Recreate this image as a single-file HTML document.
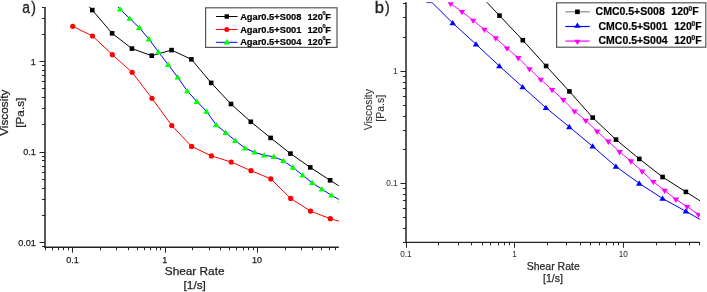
<!DOCTYPE html>
<html><head><meta charset="utf-8"><style>
html,body{margin:0;padding:0;background:#fff;}
body{width:707px;height:292px;overflow:hidden;font-family:"Liberation Sans",sans-serif;}
svg{display:block;will-change:transform;}
</style></head><body>
<svg width="707" height="292" viewBox="0 0 707 292">
<rect width="707" height="292" fill="#fff"/>
<defs><clipPath id="cl"><rect x="45" y="6.8" width="293.8" height="241.2"/></clipPath><clipPath id="cr"><rect x="406" y="2.3" width="293.9" height="240"/></clipPath></defs>
<line x1="45" y1="7" x2="45" y2="247.7" stroke="#222" stroke-width="1.5"/>
<line x1="44.5" y1="247.2" x2="338.8" y2="247.2" stroke="#222" stroke-width="1.5"/>
<line x1="42" y1="246.5" x2="45" y2="246.5" stroke="#222" stroke-width="1"/>
<line x1="39.5" y1="242.5" x2="45" y2="242.5" stroke="#222" stroke-width="1"/>
<line x1="42" y1="215.5" x2="45" y2="215.5" stroke="#222" stroke-width="1"/>
<line x1="42" y1="199.5" x2="45" y2="199.5" stroke="#222" stroke-width="1"/>
<line x1="42" y1="188.5" x2="45" y2="188.5" stroke="#222" stroke-width="1"/>
<line x1="42" y1="179.5" x2="45" y2="179.5" stroke="#222" stroke-width="1"/>
<line x1="42" y1="172.5" x2="45" y2="172.5" stroke="#222" stroke-width="1"/>
<line x1="42" y1="166.5" x2="45" y2="166.5" stroke="#222" stroke-width="1"/>
<line x1="42" y1="160.5" x2="45" y2="160.5" stroke="#222" stroke-width="1"/>
<line x1="42" y1="156.5" x2="45" y2="156.5" stroke="#222" stroke-width="1"/>
<line x1="39.5" y1="152.5" x2="45" y2="152.5" stroke="#222" stroke-width="1"/>
<line x1="42" y1="124.5" x2="45" y2="124.5" stroke="#222" stroke-width="1"/>
<line x1="42" y1="108.5" x2="45" y2="108.5" stroke="#222" stroke-width="1"/>
<line x1="42" y1="97.5" x2="45" y2="97.5" stroke="#222" stroke-width="1"/>
<line x1="42" y1="88.5" x2="45" y2="88.5" stroke="#222" stroke-width="1"/>
<line x1="42" y1="81.5" x2="45" y2="81.5" stroke="#222" stroke-width="1"/>
<line x1="42" y1="75.5" x2="45" y2="75.5" stroke="#222" stroke-width="1"/>
<line x1="42" y1="70.5" x2="45" y2="70.5" stroke="#222" stroke-width="1"/>
<line x1="42" y1="65.5" x2="45" y2="65.5" stroke="#222" stroke-width="1"/>
<line x1="39.5" y1="61.5" x2="45" y2="61.5" stroke="#222" stroke-width="1"/>
<line x1="42" y1="34.5" x2="45" y2="34.5" stroke="#222" stroke-width="1"/>
<line x1="42" y1="18.5" x2="45" y2="18.5" stroke="#222" stroke-width="1"/>
<line x1="42" y1="7.5" x2="45" y2="7.5" stroke="#222" stroke-width="1"/>
<line x1="45.5" y1="247.2" x2="45.5" y2="250.2" stroke="#222" stroke-width="1"/>
<line x1="52.5" y1="247.2" x2="52.5" y2="250.2" stroke="#222" stroke-width="1"/>
<line x1="58.5" y1="247.2" x2="58.5" y2="250.2" stroke="#222" stroke-width="1"/>
<line x1="63.5" y1="247.2" x2="63.5" y2="250.2" stroke="#222" stroke-width="1"/>
<line x1="68.5" y1="247.2" x2="68.5" y2="250.2" stroke="#222" stroke-width="1"/>
<line x1="72.5" y1="247.2" x2="72.5" y2="252.7" stroke="#222" stroke-width="1"/>
<line x1="100.5" y1="247.2" x2="100.5" y2="250.2" stroke="#222" stroke-width="1"/>
<line x1="116.5" y1="247.2" x2="116.5" y2="250.2" stroke="#222" stroke-width="1"/>
<line x1="128.5" y1="247.2" x2="128.5" y2="250.2" stroke="#222" stroke-width="1"/>
<line x1="137.5" y1="247.2" x2="137.5" y2="250.2" stroke="#222" stroke-width="1"/>
<line x1="144.5" y1="247.2" x2="144.5" y2="250.2" stroke="#222" stroke-width="1"/>
<line x1="150.5" y1="247.2" x2="150.5" y2="250.2" stroke="#222" stroke-width="1"/>
<line x1="156.5" y1="247.2" x2="156.5" y2="250.2" stroke="#222" stroke-width="1"/>
<line x1="160.5" y1="247.2" x2="160.5" y2="250.2" stroke="#222" stroke-width="1"/>
<line x1="165.5" y1="247.2" x2="165.5" y2="252.7" stroke="#222" stroke-width="1"/>
<line x1="192.5" y1="247.2" x2="192.5" y2="250.2" stroke="#222" stroke-width="1"/>
<line x1="209.5" y1="247.2" x2="209.5" y2="250.2" stroke="#222" stroke-width="1"/>
<line x1="220.5" y1="247.2" x2="220.5" y2="250.2" stroke="#222" stroke-width="1"/>
<line x1="229.5" y1="247.2" x2="229.5" y2="250.2" stroke="#222" stroke-width="1"/>
<line x1="236.5" y1="247.2" x2="236.5" y2="250.2" stroke="#222" stroke-width="1"/>
<line x1="243.5" y1="247.2" x2="243.5" y2="250.2" stroke="#222" stroke-width="1"/>
<line x1="248.5" y1="247.2" x2="248.5" y2="250.2" stroke="#222" stroke-width="1"/>
<line x1="253.5" y1="247.2" x2="253.5" y2="250.2" stroke="#222" stroke-width="1"/>
<line x1="257.5" y1="247.2" x2="257.5" y2="252.7" stroke="#222" stroke-width="1"/>
<line x1="285.5" y1="247.2" x2="285.5" y2="250.2" stroke="#222" stroke-width="1"/>
<line x1="301.5" y1="247.2" x2="301.5" y2="250.2" stroke="#222" stroke-width="1"/>
<line x1="312.5" y1="247.2" x2="312.5" y2="250.2" stroke="#222" stroke-width="1"/>
<line x1="321.5" y1="247.2" x2="321.5" y2="250.2" stroke="#222" stroke-width="1"/>
<line x1="329.5" y1="247.2" x2="329.5" y2="250.2" stroke="#222" stroke-width="1"/>
<line x1="335.5" y1="247.2" x2="335.5" y2="250.2" stroke="#222" stroke-width="1"/>
<line x1="406" y1="2.3" x2="406" y2="242.8" stroke="#222" stroke-width="1.5"/>
<line x1="405.5" y1="242.3" x2="699.9" y2="242.3" stroke="#222" stroke-width="1.15"/>
<line x1="403" y1="242.5" x2="406" y2="242.5" stroke="#222" stroke-width="1"/>
<line x1="403" y1="228.5" x2="406" y2="228.5" stroke="#222" stroke-width="1"/>
<line x1="403" y1="217.5" x2="406" y2="217.5" stroke="#222" stroke-width="1"/>
<line x1="403" y1="208.5" x2="406" y2="208.5" stroke="#222" stroke-width="1"/>
<line x1="403" y1="200.5" x2="406" y2="200.5" stroke="#222" stroke-width="1"/>
<line x1="403" y1="194.5" x2="406" y2="194.5" stroke="#222" stroke-width="1"/>
<line x1="403" y1="188.5" x2="406" y2="188.5" stroke="#222" stroke-width="1"/>
<line x1="400.5" y1="183.5" x2="406" y2="183.5" stroke="#222" stroke-width="1"/>
<line x1="403" y1="149.5" x2="406" y2="149.5" stroke="#222" stroke-width="1"/>
<line x1="403" y1="130.5" x2="406" y2="130.5" stroke="#222" stroke-width="1"/>
<line x1="403" y1="116.5" x2="406" y2="116.5" stroke="#222" stroke-width="1"/>
<line x1="403" y1="105.5" x2="406" y2="105.5" stroke="#222" stroke-width="1"/>
<line x1="403" y1="96.5" x2="406" y2="96.5" stroke="#222" stroke-width="1"/>
<line x1="403" y1="88.5" x2="406" y2="88.5" stroke="#222" stroke-width="1"/>
<line x1="403" y1="82.5" x2="406" y2="82.5" stroke="#222" stroke-width="1"/>
<line x1="403" y1="76.5" x2="406" y2="76.5" stroke="#222" stroke-width="1"/>
<line x1="400.5" y1="71.5" x2="406" y2="71.5" stroke="#222" stroke-width="1"/>
<line x1="403" y1="37.5" x2="406" y2="37.5" stroke="#222" stroke-width="1"/>
<line x1="403" y1="17.5" x2="406" y2="17.5" stroke="#222" stroke-width="1"/>
<line x1="403" y1="3.5" x2="406" y2="3.5" stroke="#222" stroke-width="1"/>
<line x1="406.5" y1="242.3" x2="406.5" y2="247.8" stroke="#222" stroke-width="1"/>
<line x1="438.5" y1="242.3" x2="438.5" y2="245.3" stroke="#222" stroke-width="1"/>
<line x1="458.5" y1="242.3" x2="458.5" y2="245.3" stroke="#222" stroke-width="1"/>
<line x1="471.5" y1="242.3" x2="471.5" y2="245.3" stroke="#222" stroke-width="1"/>
<line x1="482.5" y1="242.3" x2="482.5" y2="245.3" stroke="#222" stroke-width="1"/>
<line x1="490.5" y1="242.3" x2="490.5" y2="245.3" stroke="#222" stroke-width="1"/>
<line x1="498.5" y1="242.3" x2="498.5" y2="245.3" stroke="#222" stroke-width="1"/>
<line x1="504.5" y1="242.3" x2="504.5" y2="245.3" stroke="#222" stroke-width="1"/>
<line x1="509.5" y1="242.3" x2="509.5" y2="245.3" stroke="#222" stroke-width="1"/>
<line x1="514.5" y1="242.3" x2="514.5" y2="247.8" stroke="#222" stroke-width="1"/>
<line x1="547.5" y1="242.3" x2="547.5" y2="245.3" stroke="#222" stroke-width="1"/>
<line x1="566.5" y1="242.3" x2="566.5" y2="245.3" stroke="#222" stroke-width="1"/>
<line x1="580.5" y1="242.3" x2="580.5" y2="245.3" stroke="#222" stroke-width="1"/>
<line x1="590.5" y1="242.3" x2="590.5" y2="245.3" stroke="#222" stroke-width="1"/>
<line x1="599.5" y1="242.3" x2="599.5" y2="245.3" stroke="#222" stroke-width="1"/>
<line x1="606.5" y1="242.3" x2="606.5" y2="245.3" stroke="#222" stroke-width="1"/>
<line x1="613.5" y1="242.3" x2="613.5" y2="245.3" stroke="#222" stroke-width="1"/>
<line x1="618.5" y1="242.3" x2="618.5" y2="245.3" stroke="#222" stroke-width="1"/>
<line x1="623.5" y1="242.3" x2="623.5" y2="247.8" stroke="#222" stroke-width="1"/>
<line x1="656.5" y1="242.3" x2="656.5" y2="245.3" stroke="#222" stroke-width="1"/>
<line x1="675.5" y1="242.3" x2="675.5" y2="245.3" stroke="#222" stroke-width="1"/>
<line x1="689.5" y1="242.3" x2="689.5" y2="245.3" stroke="#222" stroke-width="1"/>
<line x1="699.5" y1="242.3" x2="699.5" y2="245.3" stroke="#222" stroke-width="1"/>
<g clip-path="url(#cl)">
<polyline points="72.5,-12 92.3,10.1 112.11,33.3 131.93,48.6 151.75,55.7 171.56,50.1 191.38,59.3 211.19,82.9 231,104 250.82,121.8 270.63,137.9 290.45,153.6 310.26,167.4 330.08,180.3 350.1,193" fill="none" stroke="#000" stroke-width="1" stroke-linejoin="round"/>
<polyline points="72.7,26.3 92.52,36 112.33,54.7 132.15,72.3 151.96,98.3 171.78,125.5 191.59,146.4 211.41,155.9 231.22,162 251.04,170.7 270.85,178.9 290.67,198.4 310.48,211.1 330.3,218.7 350.1,224.3" fill="none" stroke="#f00" stroke-width="1" stroke-linejoin="round"/>
<polyline points="110.5,-2 120.1,9.2 129.7,18.5 139.31,27.7 148.91,39.1 158.52,52 168.12,64.6 177.73,77.3 187.33,91 196.94,101.6 206.55,111.4 216.15,124.9 225.75,132.7 235.36,140.7 244.97,148.1 254.57,152.2 264.18,155.3 273.78,156.7 283.38,160.8 292.99,167.4 302.6,175.2 312.2,182.8 321.81,189.1 331.41,195.3 341.01,200.6" fill="none" stroke="#00f" stroke-width="1" stroke-linejoin="round"/>
<rect x="90" y="7.8" width="4.6" height="4.6" fill="#000"/>
<rect x="109.81" y="31" width="4.6" height="4.6" fill="#000"/>
<rect x="129.63" y="46.3" width="4.6" height="4.6" fill="#000"/>
<rect x="149.44" y="53.4" width="4.6" height="4.6" fill="#000"/>
<rect x="169.26" y="47.8" width="4.6" height="4.6" fill="#000"/>
<rect x="189.07" y="57" width="4.6" height="4.6" fill="#000"/>
<rect x="208.89" y="80.6" width="4.6" height="4.6" fill="#000"/>
<rect x="228.7" y="101.7" width="4.6" height="4.6" fill="#000"/>
<rect x="248.52" y="119.5" width="4.6" height="4.6" fill="#000"/>
<rect x="268.33" y="135.6" width="4.6" height="4.6" fill="#000"/>
<rect x="288.15" y="151.3" width="4.6" height="4.6" fill="#000"/>
<rect x="307.96" y="165.1" width="4.6" height="4.6" fill="#000"/>
<rect x="327.78" y="178" width="4.6" height="4.6" fill="#000"/>
<circle cx="72.7" cy="26.3" r="2.6" fill="#f00"/>
<circle cx="92.52" cy="36" r="2.6" fill="#f00"/>
<circle cx="112.33" cy="54.7" r="2.6" fill="#f00"/>
<circle cx="132.15" cy="72.3" r="2.6" fill="#f00"/>
<circle cx="151.96" cy="98.3" r="2.6" fill="#f00"/>
<circle cx="171.78" cy="125.5" r="2.6" fill="#f00"/>
<circle cx="191.59" cy="146.4" r="2.6" fill="#f00"/>
<circle cx="211.41" cy="155.9" r="2.6" fill="#f00"/>
<circle cx="231.22" cy="162" r="2.6" fill="#f00"/>
<circle cx="251.04" cy="170.7" r="2.6" fill="#f00"/>
<circle cx="270.85" cy="178.9" r="2.6" fill="#f00"/>
<circle cx="290.67" cy="198.4" r="2.6" fill="#f00"/>
<circle cx="310.48" cy="211.1" r="2.6" fill="#f00"/>
<circle cx="330.3" cy="218.7" r="2.6" fill="#f00"/>
<polygon points="120.1,6.1 123.4,11.5 116.8,11.5" fill="#0f0"/>
<polygon points="129.7,15.4 133,20.8 126.4,20.8" fill="#0f0"/>
<polygon points="139.31,24.6 142.61,30 136.01,30" fill="#0f0"/>
<polygon points="148.91,36 152.22,41.4 145.61,41.4" fill="#0f0"/>
<polygon points="158.52,48.9 161.82,54.3 155.22,54.3" fill="#0f0"/>
<polygon points="168.12,61.5 171.43,66.9 164.82,66.9" fill="#0f0"/>
<polygon points="177.73,74.2 181.03,79.6 174.43,79.6" fill="#0f0"/>
<polygon points="187.33,87.9 190.63,93.3 184.03,93.3" fill="#0f0"/>
<polygon points="196.94,98.5 200.24,103.9 193.64,103.9" fill="#0f0"/>
<polygon points="206.55,108.3 209.85,113.7 203.25,113.7" fill="#0f0"/>
<polygon points="216.15,121.8 219.45,127.2 212.85,127.2" fill="#0f0"/>
<polygon points="225.75,129.6 229.06,135 222.45,135" fill="#0f0"/>
<polygon points="235.36,137.6 238.66,143 232.06,143" fill="#0f0"/>
<polygon points="244.97,145 248.27,150.4 241.66,150.4" fill="#0f0"/>
<polygon points="254.57,149.1 257.87,154.5 251.27,154.5" fill="#0f0"/>
<polygon points="264.18,152.2 267.48,157.6 260.88,157.6" fill="#0f0"/>
<polygon points="273.78,153.6 277.08,159 270.48,159" fill="#0f0"/>
<polygon points="283.38,157.7 286.69,163.1 280.08,163.1" fill="#0f0"/>
<polygon points="292.99,164.3 296.29,169.7 289.69,169.7" fill="#0f0"/>
<polygon points="302.6,172.1 305.9,177.5 299.3,177.5" fill="#0f0"/>
<polygon points="312.2,179.7 315.5,185.1 308.9,185.1" fill="#0f0"/>
<polygon points="321.81,186 325.11,191.4 318.5,191.4" fill="#0f0"/>
<polygon points="331.41,192.2 334.71,197.6 328.11,197.6" fill="#0f0"/>
<polygon points="341.01,197.5 344.31,202.9 337.71,202.9" fill="#0f0"/>
</g>
<g clip-path="url(#cr)">
<polyline points="476.2,-9 499.5,15.6 522.8,40.2 546.1,66 569.4,91.4 592.7,117.6 616,139.6 639.3,158.9 662.6,177 685.9,191.9 709.2,206.6" fill="none" stroke="#000" stroke-width="1" stroke-linejoin="round"/>
<polyline points="426.4,2.6 432.1,2.6 452.7,23 476.02,44.3 499.34,66 522.66,87 545.98,107.8 569.3,126.9 592.62,146.3 615.94,166.5 639.26,183.4 662.58,198.5 685.9,211.3 709.2,224.8" fill="none" stroke="#00f" stroke-width="1" stroke-linejoin="round"/>
<polyline points="450.7,3.7 461.96,11.7 473.22,20.5 484.48,29.5 495.74,38.1 507,48.2 518.26,57.8 529.52,69 540.78,79.5 552.04,89.7 563.3,99.7 574.56,111.2 585.82,120.5 597.08,131.3 608.34,141.4 619.6,151.8 630.86,161.1 642.12,171.4 653.38,181.7 664.64,190.5 675.9,199.3 687.16,206.7 698.42,214.5" fill="none" stroke="#f0f" stroke-width="1" stroke-linejoin="round"/>
<rect x="497.2" y="13.3" width="4.6" height="4.6" fill="#000"/>
<rect x="520.5" y="37.9" width="4.6" height="4.6" fill="#000"/>
<rect x="543.8" y="63.7" width="4.6" height="4.6" fill="#000"/>
<rect x="567.1" y="89.1" width="4.6" height="4.6" fill="#000"/>
<rect x="590.4" y="115.3" width="4.6" height="4.6" fill="#000"/>
<rect x="613.7" y="137.3" width="4.6" height="4.6" fill="#000"/>
<rect x="637" y="156.6" width="4.6" height="4.6" fill="#000"/>
<rect x="660.3" y="174.7" width="4.6" height="4.6" fill="#000"/>
<rect x="683.6" y="189.6" width="4.6" height="4.6" fill="#000"/>
<polygon points="452.7,19.97 455.95,25.27 449.45,25.27" fill="#00f"/>
<polygon points="476.02,41.27 479.27,46.57 472.77,46.57" fill="#00f"/>
<polygon points="499.34,62.97 502.59,68.27 496.09,68.27" fill="#00f"/>
<polygon points="522.66,83.97 525.91,89.27 519.41,89.27" fill="#00f"/>
<polygon points="545.98,104.77 549.23,110.07 542.73,110.07" fill="#00f"/>
<polygon points="569.3,123.87 572.55,129.17 566.05,129.17" fill="#00f"/>
<polygon points="592.62,143.27 595.87,148.57 589.37,148.57" fill="#00f"/>
<polygon points="615.94,163.47 619.19,168.77 612.69,168.77" fill="#00f"/>
<polygon points="639.26,180.37 642.51,185.67 636.01,185.67" fill="#00f"/>
<polygon points="662.58,195.47 665.83,200.77 659.33,200.77" fill="#00f"/>
<polygon points="685.9,208.27 689.15,213.57 682.65,213.57" fill="#00f"/>
<polygon points="447.5,1.9 453.9,1.9 450.7,7.3" fill="#f0f"/>
<polygon points="458.76,9.9 465.16,9.9 461.96,15.3" fill="#f0f"/>
<polygon points="470.02,18.7 476.42,18.7 473.22,24.1" fill="#f0f"/>
<polygon points="481.28,27.7 487.68,27.7 484.48,33.1" fill="#f0f"/>
<polygon points="492.54,36.3 498.94,36.3 495.74,41.7" fill="#f0f"/>
<polygon points="503.8,46.4 510.2,46.4 507,51.8" fill="#f0f"/>
<polygon points="515.06,56 521.46,56 518.26,61.4" fill="#f0f"/>
<polygon points="526.32,67.2 532.72,67.2 529.52,72.6" fill="#f0f"/>
<polygon points="537.58,77.7 543.98,77.7 540.78,83.1" fill="#f0f"/>
<polygon points="548.84,87.9 555.24,87.9 552.04,93.3" fill="#f0f"/>
<polygon points="560.1,97.9 566.5,97.9 563.3,103.3" fill="#f0f"/>
<polygon points="571.36,109.4 577.76,109.4 574.56,114.8" fill="#f0f"/>
<polygon points="582.62,118.7 589.02,118.7 585.82,124.1" fill="#f0f"/>
<polygon points="593.88,129.5 600.28,129.5 597.08,134.9" fill="#f0f"/>
<polygon points="605.14,139.6 611.54,139.6 608.34,145" fill="#f0f"/>
<polygon points="616.4,150 622.8,150 619.6,155.4" fill="#f0f"/>
<polygon points="627.66,159.3 634.06,159.3 630.86,164.7" fill="#f0f"/>
<polygon points="638.92,169.6 645.32,169.6 642.12,175" fill="#f0f"/>
<polygon points="650.18,179.9 656.58,179.9 653.38,185.3" fill="#f0f"/>
<polygon points="661.44,188.7 667.84,188.7 664.64,194.1" fill="#f0f"/>
<polygon points="672.7,197.5 679.1,197.5 675.9,202.9" fill="#f0f"/>
<polygon points="683.96,204.9 690.36,204.9 687.16,210.3" fill="#f0f"/>
<polygon points="695.22,212.7 701.62,212.7 698.42,218.1" fill="#f0f"/>
</g>
<g transform="translate(22.9,0) scale(0.84,1) translate(-22.9,0)"><text x="22.2" y="12.7" font-size="16.5" fill="#222" font-family="Liberation Sans, sans-serif" stroke="#222" stroke-width="0.35">a</text></g>
<g transform="translate(31.4,0) scale(0.85,1) translate(-31.4,0)"><text x="31.3" y="12.7" font-size="16.5" fill="#222" font-family="Liberation Sans, sans-serif" stroke="#222" stroke-width="0.35">)</text></g>
<text x="30.73" y="64.7" font-size="9" fill="#222" font-family="Liberation Sans, sans-serif" stroke="#222" stroke-width="0.25">1</text>
<text x="23.23" y="155.2" font-size="9" fill="#222" font-family="Liberation Sans, sans-serif" stroke="#222" stroke-width="0.25">0.1</text>
<text x="18.22" y="245.7" font-size="9" fill="#222" font-family="Liberation Sans, sans-serif" stroke="#222" stroke-width="0.25">0.01</text>
<text x="66.29" y="262.7" font-size="9" fill="#222" font-family="Liberation Sans, sans-serif" stroke="#222" stroke-width="0.25">0.1</text>
<text x="162.17" y="262.7" font-size="9" fill="#222" font-family="Liberation Sans, sans-serif" stroke="#222" stroke-width="0.25">1</text>
<text x="251.93" y="262.7" font-size="9" fill="#222" font-family="Liberation Sans, sans-serif" stroke="#222" stroke-width="0.25">10</text>
<text x="164.8" y="274.8" font-size="11.8" fill="#222" font-family="Liberation Sans, sans-serif" stroke="#222" stroke-width="0.25">Shear Rate</text>
<text x="183.6" y="289.2" font-size="11.8" fill="#222" font-family="Liberation Sans, sans-serif" stroke="#222" stroke-width="0.25">[1/s]</text>
<text transform="translate(8.1,135.8) rotate(-90)" x="-0.05" y="0" font-size="11.8" fill="#222" stroke="#222" stroke-width="0.25" font-family="Liberation Sans, sans-serif">Viscosity</text>
<text transform="translate(23.6,127) rotate(-90)" x="-0.84" y="0" font-size="11.8" fill="#222" stroke="#222" stroke-width="0.25" font-family="Liberation Sans, sans-serif">[Pa.s]</text>
<text x="374.64" y="12.7" font-size="16.5" fill="#222" font-family="Liberation Sans, sans-serif" stroke="#222" stroke-width="0.35">b</text>
<g transform="translate(385.2,0) scale(0.85,1) translate(-385.2,0)"><text x="385.1" y="12.7" font-size="16.5" fill="#222" font-family="Liberation Sans, sans-serif" stroke="#222" stroke-width="0.35">)</text></g>
<text x="393.04" y="74" font-size="8.2" fill="#333" font-family="Liberation Sans, sans-serif" stroke="#333" stroke-width="0.05">1</text>
<text x="386.2" y="186.1" font-size="8.2" fill="#333" font-family="Liberation Sans, sans-serif" stroke="#333" stroke-width="0.05">0.1</text>
<text x="400.24" y="256.8" font-size="8.2" fill="#333" font-family="Liberation Sans, sans-serif" stroke="#333" stroke-width="0.05">0.1</text>
<text x="512.31" y="256.8" font-size="8.2" fill="#333" font-family="Liberation Sans, sans-serif" stroke="#333" stroke-width="0.05">1</text>
<text x="618.79" y="256.8" font-size="8.2" fill="#333" font-family="Liberation Sans, sans-serif" stroke="#333" stroke-width="0.05">10</text>
<text x="526.64" y="270.2" font-size="10.5" fill="#2a2a2a" font-family="Liberation Sans, sans-serif" stroke="#2a2a2a" stroke-width="0.25">Shear Rate</text>
<text x="542.98" y="282" font-size="10.5" fill="#2a2a2a" font-family="Liberation Sans, sans-serif" stroke="#2a2a2a" stroke-width="0.25">[1/s]</text>
<text transform="translate(371.7,130.3) rotate(-90)" x="-0.05" y="0" font-size="10.5" fill="#333" stroke="#333" stroke-width="0.1" font-family="Liberation Sans, sans-serif">Viscosity</text>
<text transform="translate(384.3,121) rotate(-90)" x="-0.75" y="0" font-size="10.5" fill="#333" stroke="#333" stroke-width="0.1" font-family="Liberation Sans, sans-serif">[Pa.s]</text>
<rect x="205.6" y="7.8" width="131.4" height="39.6" fill="#fff" stroke="#555" stroke-width="1.2"/>
<line x1="216.1" y1="16.5" x2="237.5" y2="16.5" stroke="#000" stroke-width="1"/>
<rect x="224.6" y="14.3" width="4.4" height="4.4" fill="#000"/>
<text x="240.17" y="19.6" font-size="9.3" font-weight="bold" fill="#000" font-family="Liberation Sans, sans-serif" stroke="#000" stroke-width="0.2">Agar0.5+S008</text>
<text x="307.41" y="19.6" font-size="9.3" font-weight="bold" fill="#000" font-family="Liberation Sans, sans-serif" stroke="#000" stroke-width="0.2">120</text>
<text x="322.58" y="14.6" font-size="5.6" font-weight="bold" fill="#000" font-family="Liberation Sans, sans-serif" stroke="#000" stroke-width="0.2">0</text>
<text x="325.18" y="19.6" font-size="9.3" font-weight="bold" fill="#000" font-family="Liberation Sans, sans-serif" stroke="#000" stroke-width="0.2">F</text>
<line x1="216.1" y1="29.5" x2="237.5" y2="29.5" stroke="#f00" stroke-width="1"/>
<circle cx="226.8" cy="29.5" r="2.5" fill="#f00"/>
<text x="240.17" y="32.5" font-size="9.3" font-weight="bold" fill="#000" font-family="Liberation Sans, sans-serif" stroke="#000" stroke-width="0.2">Agar0.5+S001</text>
<text x="307.41" y="32.5" font-size="9.3" font-weight="bold" fill="#000" font-family="Liberation Sans, sans-serif" stroke="#000" stroke-width="0.2">120</text>
<text x="322.58" y="27.5" font-size="5.6" font-weight="bold" fill="#000" font-family="Liberation Sans, sans-serif" stroke="#000" stroke-width="0.2">0</text>
<text x="325.18" y="32.5" font-size="9.3" font-weight="bold" fill="#000" font-family="Liberation Sans, sans-serif" stroke="#000" stroke-width="0.2">F</text>
<line x1="216.1" y1="42.3" x2="237.5" y2="42.3" stroke="#00f" stroke-width="1"/>
<polygon points="226.8,39 230.1,44.4 223.5,44.4" fill="#0f0"/>
<text x="240.17" y="45.4" font-size="9.3" font-weight="bold" fill="#000" font-family="Liberation Sans, sans-serif" stroke="#000" stroke-width="0.2">Agar0.5+S004</text>
<text x="307.41" y="45.4" font-size="9.3" font-weight="bold" fill="#000" font-family="Liberation Sans, sans-serif" stroke="#000" stroke-width="0.2">120</text>
<text x="322.58" y="40.4" font-size="5.6" font-weight="bold" fill="#000" font-family="Liberation Sans, sans-serif" stroke="#000" stroke-width="0.2">0</text>
<text x="325.18" y="45.4" font-size="9.3" font-weight="bold" fill="#000" font-family="Liberation Sans, sans-serif" stroke="#000" stroke-width="0.2">F</text>
<rect x="556.6" y="2.8" width="149.2" height="44.4" fill="#fff" stroke="#555" stroke-width="1.2"/>
<line x1="565.4" y1="11.8" x2="589.7" y2="11.8" stroke="#888" stroke-width="1.2"/>
<rect x="575.1" y="9.5" width="4.6" height="4.6" fill="#000"/>
<text x="595.57" y="15.2" font-size="10.5" font-weight="bold" fill="#000" font-family="Liberation Sans, sans-serif" stroke="#000" stroke-width="0.2">CMC0.5+S008</text>
<text x="671.34" y="15.2" font-size="10.5" font-weight="bold" fill="#000" font-family="Liberation Sans, sans-serif" stroke="#000" stroke-width="0.2">120</text>
<text x="688.54" y="11.2" font-size="6.5" font-weight="bold" fill="#000" font-family="Liberation Sans, sans-serif" stroke="#000" stroke-width="0.2">0</text>
<text x="692.3" y="15.2" font-size="10.5" font-weight="bold" fill="#000" font-family="Liberation Sans, sans-serif" stroke="#000" stroke-width="0.2">F</text>
<line x1="565.4" y1="26.5" x2="589.7" y2="26.5" stroke="#00f" stroke-width="1.2"/>
<polygon points="577.4,22.53 580.6,27.73 574.2,27.73" fill="#00f"/>
<text x="598.47" y="29.5" font-size="10.5" font-weight="bold" fill="#000" font-family="Liberation Sans, sans-serif" stroke="#000" stroke-width="0.2">CMC0.5+S001</text>
<text x="674.24" y="29.5" font-size="10.5" font-weight="bold" fill="#000" font-family="Liberation Sans, sans-serif" stroke="#000" stroke-width="0.2">120</text>
<text x="691.44" y="25.5" font-size="6.5" font-weight="bold" fill="#000" font-family="Liberation Sans, sans-serif" stroke="#000" stroke-width="0.2">0</text>
<text x="695.2" y="29.5" font-size="10.5" font-weight="bold" fill="#000" font-family="Liberation Sans, sans-serif" stroke="#000" stroke-width="0.2">F</text>
<line x1="565.4" y1="41.1" x2="589.7" y2="41.1" stroke="#f0f" stroke-width="1.2"/>
<polygon points="574.2,39.87 580.6,39.87 577.4,45.07" fill="#f0f"/>
<text x="598.47" y="44.1" font-size="10.5" font-weight="bold" fill="#000" font-family="Liberation Sans, sans-serif" stroke="#000" stroke-width="0.2">CMC0.5+S004</text>
<text x="674.24" y="44.1" font-size="10.5" font-weight="bold" fill="#000" font-family="Liberation Sans, sans-serif" stroke="#000" stroke-width="0.2">120</text>
<text x="691.44" y="40.1" font-size="6.5" font-weight="bold" fill="#000" font-family="Liberation Sans, sans-serif" stroke="#000" stroke-width="0.2">0</text>
<text x="695.2" y="44.1" font-size="10.5" font-weight="bold" fill="#000" font-family="Liberation Sans, sans-serif" stroke="#000" stroke-width="0.2">F</text>
</svg>
</body></html>
